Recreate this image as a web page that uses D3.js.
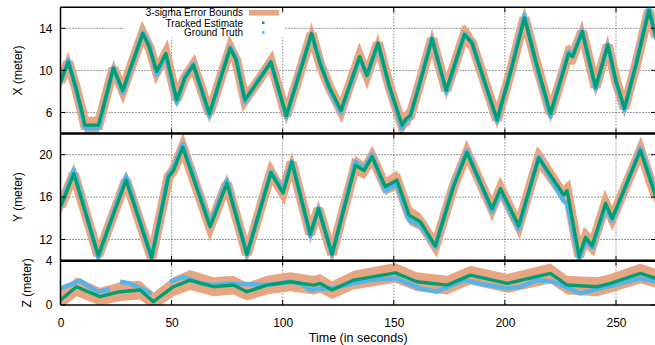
<!DOCTYPE html>
<html><head><meta charset="utf-8">
<script src="https://cdn.jsdelivr.net/npm/d3@7"></script>
<style>body{margin:0;background:#fff}svg{display:block}</style>
</head><body><svg id="c" width="655" height="345"></svg>
<script>
// ---------- data ----------
const timeTicks = [0, 50, 100, 150, 200, 250];
const xTicks = [6, 10, 14];
const yTicks = [12, 16, 20];
const zTicks = [0, 4];
const legendLabels = ["3-sigma Error Bounds", "Tracked Estimate", "Ground Truth"];

const xTime  = [0,3.5,7,9.5,11,17.1,18.5,23.8,28,32,37,40,43.3,47.4,52.3,56,59.8,63,67,72,76.4,79,83,89,94.7,101.6,107,113,117,121,126.2,134.6,137.9,142.9,148,153.7,155.5,157.4,162,167.2,173.6,181.8,185.2,190,196.5,203,208.8,214,220.5,225,228.7,230.5,234.8,240.8,246.3,250,253.8,259,264.8,268];
const xEst   = [8.9,10.8,8.3,6.2,4.8,4.8,5.9,10.2,8.1,10.5,13.5,12.2,9.9,11.6,7.2,9.3,10.5,8.5,5.9,9.2,12.1,11.0,7.2,9.0,10.8,5.7,9.3,13.5,10.5,8.4,6.2,11.3,9.55,12.6,8.5,4.8,5.4,5.7,9.0,13.0,8.1,13.4,12.6,9.5,5.3,10.2,15.0,10.8,5.9,9.0,11.6,11.3,13.7,8.4,12.4,9.0,6.4,10.5,15.7,13.2];
const xTruth = [8.8,11.0,8.2,6.0,4.5,4.5,5.7,10.3,7.9,10.4,13.6,12.4,9.6,11.5,6.9,9.4,10.6,8.4,5.6,9.3,12.2,11.2,7.0,9.1,10.8,5.5,9.5,13.4,10.8,8.2,6.0,11.2,9.5,12.5,8.4,4.5,5.2,5.5,9.1,13.1,7.9,13.5,12.7,9.4,5.1,10.3,15.3,10.6,5.6,9.2,11.8,11.4,13.8,8.2,12.5,8.8,6.2,10.7,16.0,13.0];
const xSigma = [0.7,1.0,0.7,0.7,0.8,0.8,0.7,0.8,0.8,0.7,1.1,0.8,0.9,0.8,0.8,0.8,0.9,0.7,0.9,0.7,1.0,0.9,0.8,0.7,0.8,0.9,0.7,1.1,0.8,0.7,0.9,0.9,0.8,0.9,0.7,0.9,0.8,0.9,0.7,1.0,0.9,1.0,0.9,0.7,0.9,0.7,1.1,0.8,0.9,0.8,0.9,0.8,1.1,0.9,1.0,0.8,0.9,0.7,1.0,0.8];

const yTime  = [0,6,17,29.5,41,48.6,50.8,55,67.3,74.9,83.9,94.7,100.1,104.1,112.4,116.1,122.2,132.7,136.6,140.2,146.2,151.4,156.9,162,168.7,176.9,182.9,194.2,198,206.2,215.2,226.5,228,233.4,236.3,239.3,245.3,248.3,261,268];
const yEst   = [15.1,18.2,10.5,17.6,10.3,17.9,18.5,20.7,13.2,17.3,10.6,18.3,16.4,19.3,12.5,14.9,10.6,19.0,18.5,19.8,17.0,17.6,14.3,13.65,11.4,17.0,20.2,14.9,16.8,13.3,19.7,16.2,16.6,10.4,12.2,11.4,15.4,14.0,20.4,16.0];
const yTruth = [15.1,18.6,10.3,18.0,10.2,18.1,18.7,21.0,13.4,17.6,10.5,18.4,16.6,19.4,12.3,15.0,10.5,19.3,18.7,20.0,16.6,17.2,13.8,13.3,11.3,17.2,20.4,14.6,16.5,13.0,19.8,15.6,15.4,10.1,12.0,11.2,15.1,13.8,20.6,16.4];
const ySigma = [0.8,1.0,0.9,0.9,0.9,0.8,0.8,1.1,0.8,0.9,0.9,1.0,0.8,1.0,0.9,0.8,0.9,0.9,0.8,1.0,0.8,0.9,0.9,0.8,0.9,0.8,1.0,0.8,0.9,0.9,1.0,0.8,0.9,1.0,0.9,0.9,1.0,0.8,1.0,0.9];

const zTime  = [0,7.2,17.8,26.8,35.8,41.8,50.8,58.3,68.8,77.8,83.9,92.9,103.4,113.9,116.9,122.2,131.9,150.7,160.4,174,184.5,201,220.5,228,241.5,247.5,261,268];
const zEst   = [0.45,1.65,0.75,1.2,1.35,0.3,1.65,2.25,1.65,1.8,1.2,1.8,2.1,1.8,1.95,1.35,2.25,2.9,2.1,1.8,2.7,1.95,2.85,1.8,1.65,1.95,2.85,2.4];
const zSigma = [0.8,0.85,0.8,0.85,0.85,0.8,0.85,0.9,0.85,0.85,0.8,0.85,0.85,0.85,0.85,0.8,0.85,0.9,0.85,0.85,0.85,0.85,0.9,0.85,0.85,0.85,0.9,0.85];
const zTruthTime = [0,8.8,16.3,22.3,24,26.8,31.3,35.8,41.1,45,49.2,55.3,62.8,68.8,77.8,92.9,103.4,108,112.4,116.9,122.2,131.9,139.4,150.7,161.9,169.4,181.4,191.9,200.9,206.9,214.4,221.9,233.9,242.9,251.9,260.9,268];
const zTruth = [1.5,2.2,1.2,1.4,null,2.1,1.95,1.5,1.05,null,2.1,2.55,1.95,1.8,1.95,1.8,2.1,1.95,1.35,1.5,1.5,1.95,2.25,2.4,1.5,1.2,2.25,1.8,1.5,1.65,2.25,2.1,1.05,1.5,1.95,2.4,2.1];

// ---------- layout ----------
const L = 60.5, R = 656;
const bandColor = "#e8a582", estColor = "#009e73", truthColor = "#56b4e9";
const font = "'Liberation Sans', Arial, Helvetica, sans-serif";

const svg = d3.select("#c");
const x = d3.scaleLinear().domain([0, 268]).range([L, R]);

const panels = [
  {label: "X (meter)", top: 7.3, bottom: 133.5, domain: [4, 16], ticks: xTicks, t: xTime, est: xEst, sig: xSigma, tt: xTime, tr: xTruth, lx: 18},
  {label: "Y (meter)", top: 133.5, bottom: 260.7, domain: [10, 22], ticks: yTicks, t: yTime, est: yEst, sig: ySigma, tt: yTime, tr: yTruth, lx: 18},
  {label: "Z (meter)", top: 260.7, bottom: 305, domain: [0, 4], ticks: zTicks, t: zTime, est: zEst, sig: zSigma, tt: zTruthTime, tr: zTruth, lx: 27}
];

panels.forEach((p, i) => {
  const y = d3.scaleLinear().domain(p.domain).range([p.bottom, p.top]);
  const g = svg.append("g");
  const cid = "clip" + i;
  svg.append("clipPath").attr("id", cid).append("rect")
    .attr("x", L).attr("y", p.top).attr("width", R - L).attr("height", p.bottom - p.top);

  // grid
  p.ticks.filter(v => v > p.domain[0] && v < p.domain[1]).forEach(v => {
    g.append("line").attr("x1", L).attr("x2", R).attr("y1", y(v)).attr("y2", y(v))
      .attr("stroke", "#333").attr("stroke-width", 1).attr("stroke-dasharray", "1,2");
  });
  timeTicks.filter(v => v > 0).forEach(v => {
    g.append("line").attr("x1", x(v)).attr("x2", x(v)).attr("y1", p.top).attr("y2", p.bottom)
      .attr("stroke", "#555").attr("stroke-width", 1).attr("stroke-dasharray", "1,2");
  });

  if (i === 0) {
    svg.append("rect").attr("x", 124).attr("y", 8.5).attr("width", 160).attr("height", 29).attr("fill", "#fff");
  }

  const d = p.t.map((t, k) => ({t, v: p.est[k], s: p.sig[k]}));
  const dt = p.tt.map((t, k) => ({t, v: p.tr[k]}));
  const dg = svg.append("g").attr("clip-path", `url(#${cid})`);
  const estLine = d3.line().x(e => x(e.t)).y(e => y(e.v));
  dg.append("path").datum(d)
    .attr("d", d3.area().x(e => x(e.t)).y0(e => y(e.v - e.s)).y1(e => y(e.v + e.s)))
    .attr("fill", bandColor);
  dg.append("path").datum(d).attr("d", estLine)
    .attr("fill", "none").attr("stroke", bandColor).attr("stroke-width", i === 2 ? 6 : 10)
    .attr("stroke-linejoin", "miter").attr("stroke-miterlimit", 3);
  dg.append("path").datum(dt)
    .attr("d", d3.line().defined(e => e.v !== null).x(e => x(e.t)).y(e => y(e.v)))
    .attr("fill", "none").attr("stroke", truthColor).attr("stroke-width", 4.5).attr("stroke-linejoin", "round");
  dg.append("path").datum(d).attr("d", estLine)
    .attr("fill", "none").attr("stroke", estColor).attr("stroke-width", 3.4).attr("stroke-linejoin", "round");

  // tick marks and labels
  p.ticks.forEach(v => {
    svg.append("line").attr("x1", L).attr("x2", L + 5).attr("y1", y(v)).attr("y2", y(v)).attr("stroke", "#000");
    svg.append("line").attr("x1", R - 5).attr("x2", R).attr("y1", y(v)).attr("y2", y(v)).attr("stroke", "#000");
    svg.append("text").attr("x", 52.5).attr("y", y(v)).attr("dy", "0.36em")
      .attr("text-anchor", "end").attr("font-family", font).attr("font-size", 12).text(v);
  });
  timeTicks.forEach(v => {
    svg.append("line").attr("x1", x(v)).attr("x2", x(v)).attr("y1", p.top).attr("y2", p.top + 5).attr("stroke", "#000");
    svg.append("line").attr("x1", x(v)).attr("x2", x(v)).attr("y1", p.bottom - 5).attr("y2", p.bottom).attr("stroke", "#000");
  });

  svg.append("text").attr("transform", `translate(${p.lx},${(p.top + p.bottom) / 2}) rotate(-90)`)
    .attr("text-anchor", "middle").attr("dy", "0.35em")
    .attr("font-family", font).attr("font-size", 12).text(p.label);
});

// borders
svg.append("line").attr("x1", L).attr("x2", R).attr("y1", 7.3).attr("y2", 7.3).attr("stroke", "#000").attr("stroke-width", 1.5);
svg.append("line").attr("x1", L).attr("x2", R).attr("y1", 133.5).attr("y2", 133.5).attr("stroke", "#000").attr("stroke-width", 2.5);
svg.append("line").attr("x1", L).attr("x2", R).attr("y1", 260.7).attr("y2", 260.7).attr("stroke", "#000").attr("stroke-width", 2.5);
svg.append("line").attr("x1", L).attr("x2", R).attr("y1", 305).attr("y2", 305).attr("stroke", "#000").attr("stroke-width", 1.5);
svg.append("line").attr("x1", L).attr("x2", L).attr("y1", 7.3).attr("y2", 305).attr("stroke", "#000").attr("stroke-width", 1.5);

// x tick labels
const xAxisG = svg.append("g").attr("transform", "translate(0,305)")
  .call(d3.axisBottom(x).tickValues(timeTicks).tickSize(0).tickPadding(13));
xAxisG.select(".domain").remove();
xAxisG.selectAll("text").attr("font-family", font).attr("font-size", 12).attr("fill", "#000");

svg.append("text").attr("x", (L + R) / 2).attr("y", 341.5).attr("text-anchor", "middle")
  .attr("font-family", font).attr("font-size", 12.5).text("Time (in seconds)");

// legend
const lg = svg.append("g").attr("font-family", font).attr("font-size", 10);
const ly = [12.7, 23, 32.6];
legendLabels.forEach((t, k) => {
  lg.append("text").attr("x", 243).attr("y", ly[k]).attr("dy", "0.36em").attr("text-anchor", "end").text(t);
});
lg.append("rect").attr("x", 249).attr("y", 10).attr("width", 30).attr("height", 5.5).attr("fill", bandColor);
lg.append("rect").attr("x", 262).attr("y", 21.5).attr("width", 2.5).attr("height", 2.5).attr("fill", estColor);
lg.append("rect").attr("x", 262).attr("y", 31.2).attr("width", 2.5).attr("height", 2.5).attr("fill", truthColor);
</script></body></html>
